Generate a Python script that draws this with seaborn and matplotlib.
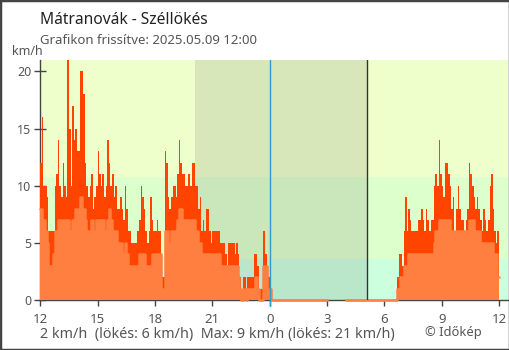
import numpy as np
import pandas as pd
import matplotlib
matplotlib.use("Agg")
import matplotlib.pyplot as plt
import matplotlib.dates as mdates
from matplotlib.patches import Rectangle
from matplotlib.ticker import FuncFormatter
import seaborn as sns

# ---- labels -------------------------------------------------------------
title = "Mátranovák - Széllökés"
subtitle = "Grafikon frissítve: 2025.05.09 12:00"
unit_label = "km/h"
summary = "2 km/h  (lökés: 6 km/h)  Max: 9 km/h (lökés: 21 km/h)"
credit = "© Időkép"

# ---- time axis ----------------------------------------------------------
start = "2025-05-08 12:00"
step = "5min"
x_end = "2025-05-09 12:28"
sunset = "2025-05-08 20:06"
sunrise = "2025-05-09 05:06"
midnight = "2025-05-09 00:00"
tick_hours = [0, 3, 6, 9, 12, 15, 18, 21]
y_ticks = [0, 5, 10, 15, 20]
y_max = 21

# wind-speed bands (km/h) and their background colours
band_edges = [0, 3.6, 10.8, 21]
band_colors = ["#CCFFDD", "#DDFFCC", "#EEFFCC"]

nan = np.nan

# ---- 5-minute gusts, km/h (one row per hour, 12:00 -> 11:55) ------------
gust = [
    12, 16, 10, 10, 9, 6, 6, 6, 6, 10, 11, 14,        # 12
    10, 9, 12, 10, 9, 21, 15, 10, 17, 14, 15, 13,     # 13
    13, 20, 20, 18, 12, 10, 9, 10, 11, 8, 9, 10,      # 14
    13, 11, 10, 11, 9, 10, 14, 12, 10, 11, 9, 10,     # 15
    8, 8, 9, 8, 7, 10, 8, 6, 6, 5, 5, 5,              # 16
    5, 6, 7, 10, 9, 8, 6, 5, 6, 9, 7, 6,              # 17
    6, 7, 6, 6, 2, 2, 13, 12, 9, 8, 9, 10,            # 18
    10, 9, 11, 14, 12, 11, 11, 10, 10, 11, 10, 12,    # 19
    12, 10, 10, 8, 9, 6, 7, 6, 8, 8, 6, 5,            # 20
    6, 6, 6, 6, 6, 5, 5, 5, 4, 3, 5, 5,               # 21
    5, 5, 4, 5, 4, 2, 1, 2, 2, 1, 2, 2,               # 22
    2, 2, 4, 4, 3, 1, 1, 1, 6, 4, 3, 2,               # 23
    2, 0, 0, 0, 0, 0, 0, 0, 0, 0, 0, 0,               # 0
    0, 0, 0, 0, 0, 0, 0, 0, 0, 0, 0, 0,               # 1
    0, 0, 0, 0, 0, 0, 0, 0, 0, 0, 0, 0,               # 2
    0, nan, nan, nan, nan, nan, nan, nan, nan, nan, nan, nan,  # 3
    0, 0, 0, 0, 0, 0, 0, 0, 0, 0, 0, 0,               # 4
    0, 0, 0, 0, 0, 0, 0, 0, 0, 0, 0, 0,               # 5
    0, 0, 0, 0, 0, 0, 0, 0, 2, 4, 4, 3,               # 6
    6, 9, 6, 8, 7, 6, 6, 6, 6, 7, 7, 8,               # 7
    7, 6, 8, 7, 6, 7, 7, 10, 11, 10, 14, 11,          # 8
    10, 9, 12, 12, 11, 10, 8, 9, 5, 8, 10, 8,         # 9
    7, 7, 6, 7, 8, 12, 11, 10, 9, 8, 9, 8,            # 10
    7, 6, 8, 7, 6, 7, 10, 11, 8, 6, 5, 6,             # 11
]

# ---- 5-minute mean wind, km/h ------------------------------------------
wind = [
    8, 7, 7, 6, 5, 3, 3, 3, 4, 6, 6, 7,               # 12
    7, 6, 7, 7, 6, 7, 6, 3, 7, 7, 8, 7,               # 13
    8, 9, 8, 8, 7, 6, 6, 6, 7, 6, 6, 7,               # 14
    7, 7, 6, 7, 6, 6, 7, 8, 7, 6, 6, 6,               # 15
    5, 5, 5, 4, 4, 5, 4, 3, 3, 3, 3, 3,               # 16
    3, 3, 4, 4, 4, 4, 3, 3, 3, 3, 4, 3,               # 17
    4, 4, 4, 4, 1, 1, 6, 6, 5, 5, 6, 6,               # 18
    6, 6, 7, 8, 8, 7, 7, 7, 6, 7, 6, 7,               # 19
    7, 6, 6, 5, 5, 4, 4, 4, 4, 4, 4, 4,               # 20
    4, 4, 4, 4, 4, 3, 3, 3, 3, 2, 3, 3,               # 21
    3, 3, 3, 3, 2, 1, 0, 1, 1, 0, 1, 1,               # 22
    1, 1, 1, 2, 1, 0, 0, 0, 3, 3, 1, 1,               # 23
    1, 0, 0, 0, 0, 0, 0, 0, 0, 0, 0, 0,               # 0
    0, 0, 0, 0, 0, 0, 0, 0, 0, 0, 0, 0,               # 1
    0, 0, 0, 0, 0, 0, 0, 0, 0, 0, 0, 0,               # 2
    0, nan, nan, nan, nan, nan, nan, nan, nan, nan, nan, nan,  # 3
    0, 0, 0, 0, 0, 0, 0, 0, 0, 0, 0, 0,               # 4
    0, 0, 0, 0, 0, 0, 0, 0, 0, 0, 0, 0,               # 5
    0, 0, 0, 0, 0, 0, 0, 0, 1, 1, 2, 2,               # 6
    3, 3, 3, 4, 4, 4, 4, 4, 4, 4, 4, 4,               # 7
    4, 4, 4, 4, 4, 4, 4, 5, 6, 6, 7, 7,               # 8
    7, 7, 7, 7, 7, 6, 6, 6, 4, 6, 6, 6,               # 9
    6, 6, 6, 5, 6, 7, 7, 7, 6, 6, 6, 6,               # 10
    5, 5, 5, 5, 5, 4, 5, 5, 4, 4, 4, 2,               # 11
]

GUST_COLOR = "#FF4400"
WIND_COLOR = "#FF7F40"
AXIS_COLOR = "#444444"
TEXT_COLOR = "#555555"

# ---- data frame; repeat the last row so the final step reaches 12:00 ----
times = pd.date_range(start, periods=len(gust), freq=step)
df = pd.DataFrame({"time": times, "gust": gust, "wind": wind})
tail = df.iloc[[-1]].copy()
tail["time"] = tail["time"] + pd.Timedelta(step)
df = pd.concat([df, tail], ignore_index=True)
df["segment"] = df["wind"].isna().cumsum()

sns.set_theme(style="ticks")
plt.rcParams["font.family"] = ["Noto Sans", "DejaVu Sans"]

W, H = 510, 350
fig = plt.figure(figsize=(W / 100, H / 100), dpi=100)
ax = fig.add_axes([40.3 / W, 1 - 300 / H, (508 - 40.3) / W, 240 / H])

t0, t1 = pd.Timestamp(start), pd.Timestamp(x_end)
ax.set_xlim(t0, t1)
ax.set_ylim(0, y_max)

# background bands and night shading
for lo, hi, c in zip(band_edges[:-1], band_edges[1:], band_colors):
    ax.axhspan(lo, hi, color=c, lw=0, zorder=0)
ax.axvspan(pd.Timestamp(sunset), pd.Timestamp(sunrise), color="#404040",
           alpha=0.12, lw=0, zorder=1)

# gusts (red) with the mean wind (orange) on top
ax.fill_between(df["time"], 0, df["gust"], step="post", color=GUST_COLOR,
                lw=0, zorder=3)
ax.fill_between(df["time"], 0, df["wind"], step="post", color=WIND_COLOR,
                lw=0, zorder=4)
sns.lineplot(data=df.dropna(), x="time", y="wind", units="segment",
             estimator=None, drawstyle="steps-post", color=WIND_COLOR,
             lw=1.8, zorder=5, ax=ax, legend=False)
for ln in ax.lines:
    ln.set_clip_on(False)

# sunrise and midnight markers
ax.axvline(pd.Timestamp(sunrise), color="#333333", lw=1, zorder=6)
ax.axvline(pd.Timestamp(midnight), ymin=-0.025, ymax=1, color="#3399CC",
           lw=1, zorder=6, clip_on=False)

# axes styling
for side in ("top", "right"):
    ax.spines[side].set_visible(False)
for side in ("left", "bottom"):
    ax.spines[side].set_color(AXIS_COLOR)
    ax.spines[side].set_linewidth(1)
ax.set_yticks(y_ticks)
ax.xaxis.set_major_locator(mdates.HourLocator(byhour=tick_hours))
ax.xaxis.set_major_formatter(
    FuncFormatter(lambda v, p: str(mdates.num2date(v).hour)))
ax.tick_params(axis="y", direction="inout", length=9, width=1,
               color=AXIS_COLOR, labelcolor=TEXT_COLOR, labelsize=9, pad=2)
ax.tick_params(axis="x", direction="out", length=4.3, width=1,
               color=AXIS_COLOR, labelcolor=TEXT_COLOR, labelsize=9.5, pad=5)
ax.set_xlabel("")
ax.set_ylabel("")

# titles and footer
fig.text(40 / W, 1 - 24 / H, title, fontsize=11.2, color="#222222",
         va="baseline")
fig.text(40 / W, 1 - 44 / H, subtitle, fontsize=9.5, color=TEXT_COLOR,
         va="baseline")
fig.text(12 / W, 1 - 55 / H, unit_label, fontsize=9, color=TEXT_COLOR,
         va="baseline")
fig.text(40 / W, 1 - 338 / H, summary, fontsize=10.3, color=TEXT_COLOR,
         va="baseline")
fig.text(425 / W, 1 - 336 / H, credit, fontsize=9.3, color=TEXT_COLOR,
         va="baseline")

# outer frame
fig.patches.append(Rectangle((0, 0), 1, 1, transform=fig.transFigure,
                             fill=False, edgecolor=AXIS_COLOR, lw=2.5,
                             zorder=10))

fig.savefig("out.png", dpi=100)
